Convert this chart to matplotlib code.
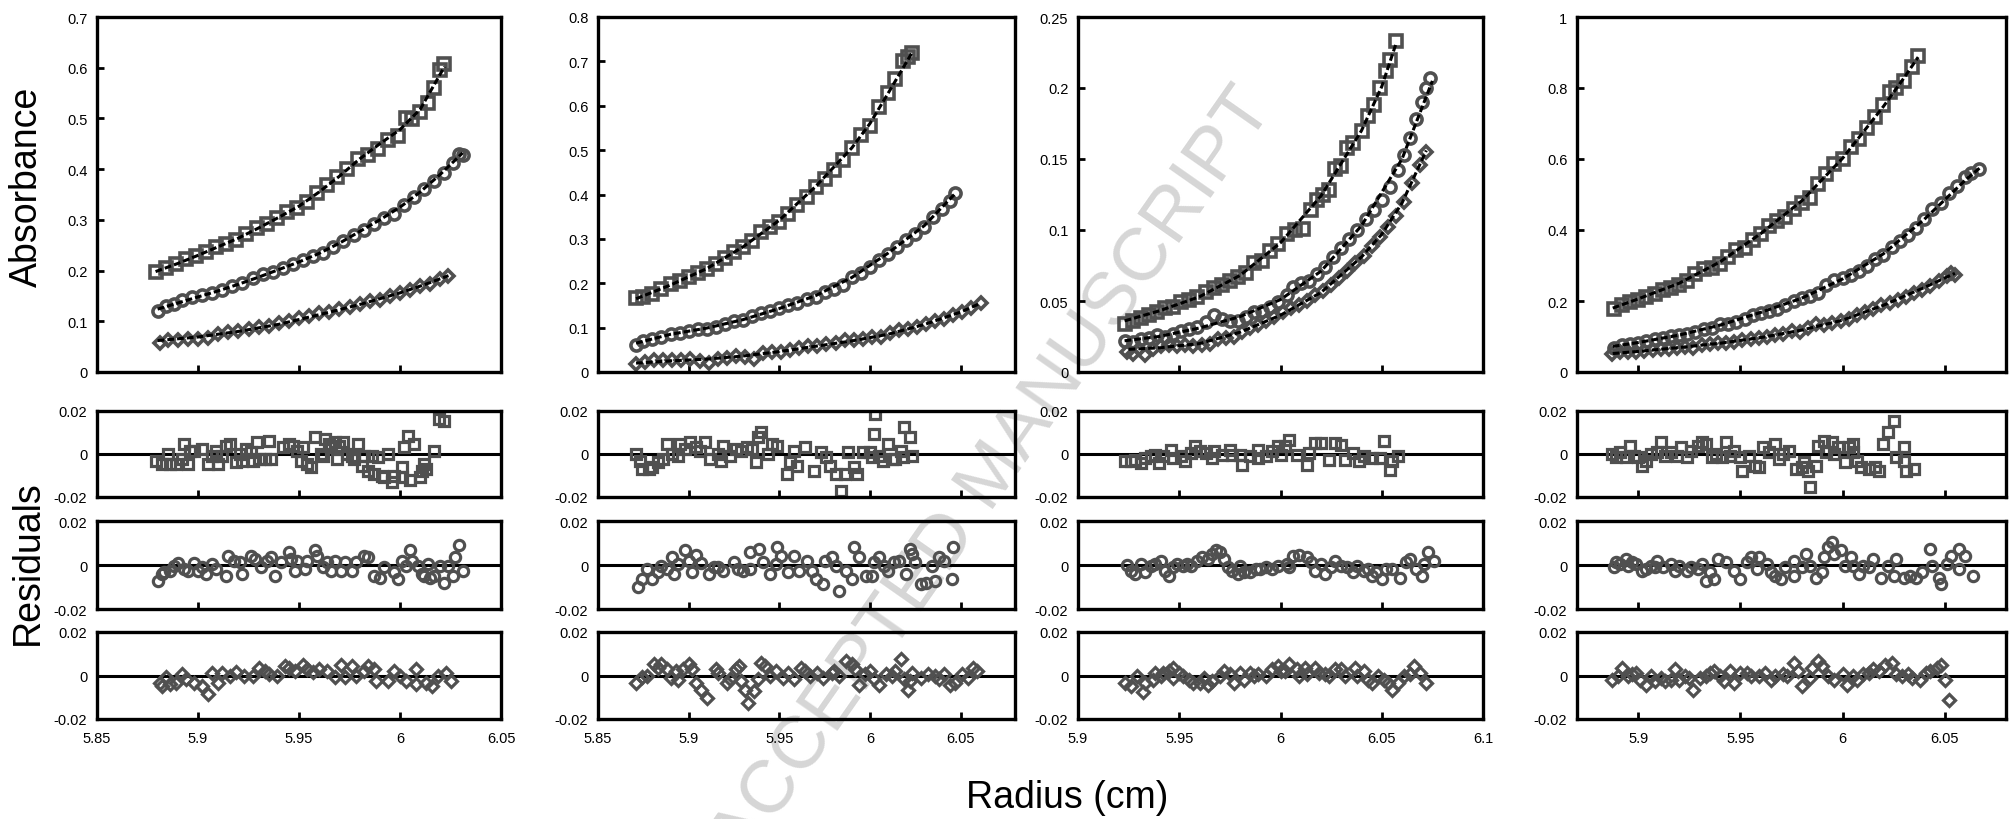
import numpy as np
import matplotlib
matplotlib.use("Agg")
from matplotlib import pyplot as plt
from matplotlib.ticker import FormatStrFormatter

plt.rcParams['font.family'] = ['Liberation Sans', 'DejaVu Sans']
plt.rcParams['axes.unicode_minus'] = False

####################################################

# Panel 1 : absorbance scans (squares / circles / diamonds) + fits

p1_sq_r = [5.879, 5.884, 5.889, 5.894, 5.899, 5.904, 5.909, 5.914, 5.919, 5.924, 5.929, 5.934, 5.939, 5.944, 5.949, 5.954,
           5.959, 5.964, 5.969, 5.974, 5.979, 5.984, 5.989, 5.994, 5.999, 6.003, 6.006, 6.010, 6.014, 6.017, 6.020, 6.022]
p1_sq_a = [.197, .205, .212, .222, .229, .236, .246, .253, .261, .272, .284, .292, .304, .315, .323, .336,
           .353, .368, .384, .400, .420, .428, .440, .458, .466, .500, .498, .512, .530, .560, .595, .607]
p1_ci_r = [5.880, 5.884, 5.888, 5.892, 5.897, 5.902, 5.907, 5.912, 5.917, 5.922, 5.927, 5.932, 5.937, 5.942, 5.947, 5.952,
           5.957, 5.962, 5.967, 5.972, 5.977, 5.982, 5.987, 5.992, 5.997, 6.002, 6.007, 6.012, 6.017, 6.022, 6.026, 6.029, 6.031]
p1_ci_a = [.120, .130, .135, .141, .147, .152, .156, .161, .170, .176, .186, .193, .197, .206, .213, .220,
           .229, .235, .246, .258, .270, .280, .292, .304, .312, .330, .345, .361, .377, .393, .413, .430, .428]
p1_di_r = [5.881, 5.885, 5.890, 5.895, 5.900, 5.905, 5.910, 5.915, 5.920, 5.925, 5.930, 5.935, 5.940, 5.945, 5.950,
           5.955, 5.960, 5.965, 5.970, 5.975, 5.980, 5.985, 5.990, 5.995, 6.000, 6.005, 6.010, 6.015, 6.020, 6.024]
p1_di_a = [.058, .063, .064, .066, .066, .068, .075, .078, .081, .084, .088, .091, .096, .101, .106,
           .110, .116, .119, .124, .129, .134, .140, .141, .150, .155, .161, .170, .173, .184, .190]

p1_sq_fit_r = [5.879, 5.89, 5.90, 5.91, 5.92, 5.93, 5.94, 5.95, 5.96, 5.97, 5.98, 5.99, 6.00, 6.01, 6.022]
p1_sq_fit_a = [.198, .214, .230, .247, .264, .284, .305, .327, .355, .386, .420, .450, .478, .518, .602]
p1_ci_fit_r = [5.88, 5.89, 5.90, 5.91, 5.92, 5.93, 5.94, 5.95, 5.96, 5.97, 5.98, 5.99, 6.00, 6.01, 6.02, 6.031]
p1_ci_fit_a = [.124, .136, .148, .160, .173, .187, .202, .217, .234, .254, .277, .300, .325, .355, .390, .432]
p1_di_fit_r = [5.88, 5.90, 5.92, 5.94, 5.96, 5.98, 6.00, 6.012, 6.024]
p1_di_fit_a = [.062, .069, .080, .094, .113, .133, .156, .172, .190]

p1_sq_res_r = [5.879, 5.882, 5.885, 5.886, 5.889, 5.892, 5.893, 5.895, 5.896, 5.898,
               5.902, 5.905, 5.907, 5.909, 5.910, 5.912, 5.914, 5.916, 5.919, 5.921,
               5.922, 5.924, 5.926, 5.927, 5.929, 5.930, 5.933, 5.935, 5.936, 5.942,
               5.945, 5.947, 5.949, 5.951, 5.952, 5.954, 5.956, 5.958, 5.961, 5.962,
               5.963, 5.965, 5.966, 5.968, 5.969, 5.970, 5.972, 5.974, 5.976, 5.977,
               5.979, 5.981, 5.982, 5.984, 5.986, 5.987, 5.989, 5.991, 5.992, 5.994,
               5.996, 5.997, 6.001, 6.001, 6.002, 6.004, 6.005, 6.007, 6.010, 6.011,
               6.012, 6.013, 6.017, 6.0195, 6.022]
p1_sq_res = [-0.0031, -0.0046, 0.0, -0.0046, -0.0046, -0.0023, 0.0046, -0.0046, 0.0015, 0.0015,
             0.0023, -0.0046, -0.0008, 0.0015, -0.0046, -0.0008, 0.0038, 0.0046, -0.0038, 0.0,
             -0.0031, 0.0023, 0.0008, -0.0031, 0.0054, -0.0023, -0.0023, 0.0062, -0.0023, 0.0031,
             0.0046, 0.0038, 0.0015, -0.0031, 0.0031, -0.0046, -0.0062, 0.0077, 0.0, -0.0008,
             0.0069, 0.0046, 0.0031, 0.0054, -0.0023, 0.0038, 0.0054, 0.0, -0.0008, -0.0023,
             0.0046, -0.0054, -0.0008, -0.0077, -0.0008, -0.0092, -0.0015, -0.0100, -0.0108, 0.0,
             -0.0131, -0.0100, -0.0108, -0.0062, 0.0031, 0.0085, -0.0123, 0.0046, -0.0108, -0.0077,
             -0.0046, -0.0069, 0.0015, 0.0162, 0.0154]
p1_ci_res_r = [5.880, 5.882, 5.883, 5.886, 5.888, 5.890, 5.893, 5.895, 5.898, 5.900,
               5.902, 5.904, 5.907, 5.909, 5.914, 5.915, 5.918, 5.921, 5.922, 5.926,
               5.928, 5.931, 5.934, 5.936, 5.938, 5.941, 5.945, 5.946, 5.948, 5.949,
               5.953, 5.954, 5.958, 5.959, 5.962, 5.964, 5.966, 5.968, 5.971, 5.973,
               5.976, 5.978, 5.982, 5.984, 5.987, 5.990, 5.992, 5.997, 5.999, 6.001,
               6.003, 6.005, 6.006, 6.009, 6.011, 6.012, 6.014, 6.015, 6.017, 6.020,
               6.022, 6.024, 6.026, 6.027, 6.029, 6.031]
p1_ci_res = [-0.0072, -0.0042, -0.0034, -0.0026, -0.0003, 0.0008, -0.0018, -0.0026, 0.0008, -0.0026,
             -0.0011, -0.0042, 0.0005, -0.0018, -0.0049, 0.0043, 0.0020, 0.0012, -0.0042, 0.0043,
             0.0028, -0.0011, 0.0020, 0.0035, -0.0049, 0.0012, 0.0059, 0.0028, -0.0026, 0.0020,
             -0.0018, 0.0020, 0.0066, 0.0043, -0.0011, 0.0012, -0.0026, 0.0020, -0.0026, 0.0012,
             -0.0026, 0.0012, 0.0043, 0.0035, -0.0049, -0.0057, -0.0008, -0.0034, -0.0065, 0.0020,
             -0.0003, 0.0066, 0.0020, -0.0003, -0.0042, -0.0049, 0.0005, -0.0057, -0.0049, -0.0003,
             -0.0080, -0.0003, -0.0049, 0.0035, 0.0089, -0.0026]
p1_di_res_r = [5.881, 5.882, 5.884, 5.886, 5.889, 5.892, 5.894, 5.898, 5.902, 5.905,
               5.907, 5.910, 5.912, 5.916, 5.919, 5.923, 5.927, 5.930, 5.933, 5.935,
               5.939, 5.943, 5.945, 5.948, 5.952, 5.954, 5.957, 5.960, 5.964, 5.968,
               5.971, 5.973, 5.976, 5.978, 5.982, 5.984, 5.987, 5.988, 5.994, 5.997,
               6.000, 6.003, 6.008, 6.008, 6.013, 6.016, 6.019, 6.023, 6.025]
p1_di_res = [-0.0034, -0.0049, -0.0006, -0.0041, -0.0034, 0.0005, -0.0018, -0.0034, -0.0046, -0.0087,
             0.0012, -0.0034, 0.0012, -0.0003, 0.0015, 0.0, -0.0003, 0.0035, 0.0020, 0.0005,
             -0.0003, 0.0043, 0.0035, 0.0020, 0.0050, 0.0031, 0.0015, 0.0028, 0.0020, -0.0006,
             0.0046, -0.0006, 0.0043, -0.0003, 0.0020, 0.0043, 0.0028, -0.0026, -0.0026, 0.0020,
             -0.0003, -0.0026, 0.0028, -0.0041, -0.0034, -0.0049, -0.0003, 0.0012, -0.0026]

####################################################

# Panel 2

p2_sq_r = [5.871, 5.875, 5.880, 5.885, 5.890, 5.895, 5.900, 5.905, 5.910, 5.915, 5.920, 5.925, 5.930, 5.935, 5.940, 5.945,
           5.950, 5.955, 5.960, 5.965, 5.970, 5.975, 5.980, 5.985, 5.990, 5.995, 6.000, 6.005, 6.010, 6.014, 6.018, 6.021, 6.023]
p2_sq_a = [.166, .170, .176, .188, .198, .206, .214, .222, .233, .243, .256, .270, .282, .295, .315, .326,
           .338, .357, .377, .395, .418, .436, .455, .477, .505, .535, .555, .598, .628, .660, .700, .710, .720]
p2_ci_r = [5.871, 5.875, 5.880, 5.885, 5.890, 5.895, 5.900, 5.905, 5.910, 5.915, 5.920, 5.925, 5.930, 5.935, 5.940, 5.945,
           5.950, 5.955, 5.960, 5.965, 5.970, 5.975, 5.980, 5.985, 5.990, 5.995, 6.000, 6.005, 6.010, 6.015, 6.020, 6.025,
           6.030, 6.035, 6.040, 6.044, 6.047]
p2_ci_a = [.060, .070, .075, .080, .086, .089, .093, .096, .098, .102, .108, .114, .118, .126, .132, .137,
           .145, .150, .156, .165, .170, .180, .188, .196, .215, .222, .236, .252, .267, .282, .298, .312,
           .326, .350, .368, .385, .404]
p2_di_r = [5.871, 5.876, 5.881, 5.886, 5.891, 5.896, 5.901, 5.906, 5.911, 5.916, 5.921, 5.926, 5.931, 5.936, 5.941, 5.946,
           5.951, 5.956, 5.961, 5.966, 5.971, 5.976, 5.981, 5.986, 5.991, 5.996, 6.001, 6.006, 6.011, 6.016, 6.021, 6.026,
           6.031, 6.036, 6.041, 6.046, 6.051, 6.056, 6.061]
p2_di_a = [.018, .022, .027, .028, .027, .026, .030, .025, .021, .030, .031, .035, .033, .030, .043, .045,
           .046, .050, .054, .058, .058, .062, .066, .072, .072, .075, .078, .079, .088, .094, .096, .102,
           .108, .115, .120, .128, .136, .144, .156]

p2_sq_fit_r = [5.871, 5.89, 5.91, 5.93, 5.95, 5.97, 5.99, 6.00, 6.01, 6.023]
p2_sq_fit_a = [.165, .196, .233, .282, .342, .418, .505, .560, .628, .718]
p2_ci_fit_r = [5.871, 5.89, 5.91, 5.93, 5.95, 5.97, 5.99, 6.01, 6.03, 6.047]
p2_ci_fit_a = [.065, .085, .099, .118, .143, .172, .213, .268, .330, .402]
p2_di_fit_r = [5.871, 5.89, 5.91, 5.93, 5.95, 5.97, 5.99, 6.01, 6.03, 6.05, 6.061]
p2_di_fit_a = [.020, .025, .029, .036, .046, .058, .070, .085, .107, .135, .155]

p2_sq_res_r = [5.871, 5.873, 5.874, 5.878, 5.880, 5.883, 5.886, 5.888, 5.891, 5.894,
               5.895, 5.898, 5.901, 5.904, 5.906, 5.909, 5.912, 5.916, 5.918, 5.919,
               5.923, 5.926, 5.929, 5.932, 5.935, 5.937, 5.938, 5.940, 5.944, 5.946,
               5.949, 5.954, 5.956, 5.958, 5.960, 5.964, 5.969, 5.973, 5.976, 5.978,
               5.981, 5.984, 5.986, 5.988, 5.991, 5.993, 5.996, 6.000, 6.001, 6.002,
               6.003, 6.005, 6.007, 6.010, 6.012, 6.014, 6.017, 6.018, 6.019, 6.022,
               6.023]
p2_sq_res = [0.0, -0.0031, -0.0070, -0.0070, -0.0062, -0.0039, -0.0023, 0.0047, 0.0, -0.0008,
             0.0047, 0.0023, 0.0055, 0.0031, 0.0016, 0.0055, -0.0023, 0.0, -0.0031, 0.0039,
             -0.0008, 0.0023, 0.0016, 0.0031, 0.0023, -0.0039, 0.0078, 0.0101, 0.0, 0.0047,
             0.0039, -0.0094, -0.0039, 0.0016, -0.0055, 0.0031, -0.0078, 0.0008, -0.0016, -0.0055,
             -0.0094, -0.0172, -0.0094, 0.0008, -0.0062, -0.0094, 0.0008, 0.0008, -0.0016, 0.0094,
             0.0187, -0.0008, -0.0031, 0.0047, -0.0023, -0.0023, 0.0016, -0.0016, 0.0125, 0.0078,
             -0.0008]
p2_ci_res_r = [5.872, 5.874, 5.877, 5.880, 5.883, 5.885, 5.888, 5.891, 5.892, 5.894,
               5.898, 5.900, 5.902, 5.904, 5.907, 5.911, 5.914, 5.916, 5.919, 5.925,
               5.927, 5.930, 5.934, 5.934, 5.939, 5.941, 5.945, 5.948, 5.949, 5.951,
               5.955, 5.958, 5.961, 5.965, 5.968, 5.970, 5.974, 5.975, 5.979, 5.981,
               5.983, 5.987, 5.990, 5.991, 5.994, 5.998, 6.001, 6.002, 6.005, 6.008,
               6.010, 6.013, 6.016, 6.020, 6.022, 6.023, 6.025, 6.028, 6.031, 6.034,
               6.036, 6.038, 6.041, 6.045, 6.046]
p2_ci_res = [-0.0100, -0.0065, -0.0018, -0.0065, -0.0034, -0.0003, -0.0018, 0.0035, -0.0042, 0.0005,
             0.0069, 0.0020, -0.0034, 0.0046, 0.0008, -0.0042, -0.0008, -0.0011, -0.0026, 0.0012,
             -0.0018, -0.0026, -0.0018, 0.0059, 0.0074, 0.0012, -0.0042, 0.0005, 0.0082, 0.0043,
             -0.0034, 0.0043, -0.0026, 0.0020, -0.0026, -0.0065, -0.0088, 0.0020, 0.0035, -0.0003,
             -0.0119, -0.0026, -0.0065, 0.0082, 0.0035, -0.0049, -0.0049, 0.0012, 0.0035, -0.0003,
             -0.0026, 0.0012, 0.0020, -0.0042, 0.0074, 0.0051, 0.0012, -0.0088, -0.0080, -0.0003,
             -0.0072, 0.0035, 0.0020, -0.0065, 0.0082]
p2_di_res_r = [5.871, 5.874, 5.877, 5.881, 5.883, 5.885, 5.888, 5.890, 5.893, 5.894,
               5.897, 5.900, 5.902, 5.904, 5.907, 5.910, 5.915, 5.916, 5.921, 5.923,
               5.926, 5.928, 5.929, 5.931, 5.933, 5.936, 5.938, 5.940, 5.942, 5.945,
               5.948, 5.952, 5.955, 5.958, 5.962, 5.964, 5.967, 5.971, 5.974, 5.979,
               5.980, 5.983, 5.987, 5.990, 5.992, 5.994, 5.997, 6.000, 6.002, 6.005,
               6.009, 6.012, 6.014, 6.017, 6.019, 6.021, 6.022, 6.023, 6.028, 6.032,
               6.036, 6.038, 6.041, 6.044, 6.047, 6.051, 6.054, 6.057, 6.059]
p2_di_res = [-0.0034, -0.0006, -0.0003, 0.0051, 0.0035, 0.0051, 0.0028, -0.0011, 0.0020, -0.0022,
             0.0028, 0.0051, 0.0028, -0.0034, -0.0065, -0.0104, 0.0028, 0.0012, -0.0034, -0.0018,
             0.0028, 0.0043, -0.0026, -0.0065, -0.0127, -0.0073, -0.0018, 0.0056, 0.0043, 0.0,
             0.0020, -0.0011, 0.0012, -0.0018, 0.0035, 0.0020, -0.0003, 0.0012, -0.0011, 0.0012,
             0.0020, -0.0003, 0.0067, 0.0051, 0.0028, -0.0042, 0.0005, 0.0020, -0.0018, -0.0042,
             0.0005, -0.0003, 0.0020, 0.0074, -0.0018, -0.0065, -0.0026, 0.0012, -0.0011, 0.0005,
             -0.0003, -0.0018, 0.0005, -0.0042, -0.0034, 0.0005, -0.0011, 0.0035, 0.0020]

####################################################

# Panel 3

p3_sq_r = [5.923, 5.927, 5.931, 5.935, 5.939, 5.943, 5.947, 5.951, 5.955, 5.959, 5.963, 5.967, 5.971, 5.975, 5.979,
           5.983, 5.987, 5.991, 5.995, 5.999, 6.003, 6.007, 6.011, 6.015, 6.018, 6.021, 6.024, 6.027, 6.030, 6.033,
           6.036, 6.040, 6.043, 6.046, 6.049, 6.052, 6.054, 6.057]
p3_sq_a = [.034, .036, .038, .040, .042, .045, .046, .049, .051, .053, .056, .059, .061, .064, .067,
           .070, .077, .078, .085, .090, .097, .100, .101, .114, .121, .125, .128, .143, .145, .158,
           .161, .170, .180, .188, .200, .212, .220, .233]
p3_ci_r = [5.923, 5.927, 5.931, 5.935, 5.939, 5.943, 5.947, 5.951, 5.955, 5.959, 5.963, 5.967, 5.971, 5.975, 5.979,
           5.983, 5.987, 5.991, 5.995, 5.999, 6.003, 6.006, 6.010, 6.014, 6.018, 6.022, 6.026, 6.030, 6.034, 6.038,
           6.042, 6.046, 6.050, 6.054, 6.058, 6.061, 6.064, 6.067, 6.070, 6.072, 6.074]
p3_ci_a = [.022, .021, .023, .024, .026, .025, .027, .029, .030, .032, .035, .040, .037, .036, .036,
           .039, .042, .043, .046, .049, .054, .060, .063, .064, .069, .074, .081, .087, .094, .100,
           .108, .114, .121, .130, .142, .153, .165, .178, .190, .200, .207]
p3_di_r = [5.924, 5.927, 5.930, 5.933, 5.937, 5.941, 5.945, 5.949, 5.953, 5.957, 5.961, 5.965, 5.969, 5.973, 5.977,
           5.981, 5.985, 5.989, 5.993, 5.997, 6.001, 6.005, 6.009, 6.013, 6.017, 6.021, 6.025, 6.029, 6.033, 6.037,
           6.041, 6.045, 6.049, 6.053, 6.057, 6.061, 6.065, 6.069, 6.072]
p3_di_a = [.014, .013, .016, .012, .016, .018, .019, .018, .019, .018, .019, .020, .023, .024, .025,
           .028, .031, .033, .036, .039, .042, .045, .047, .050, .054, .057, .061, .066, .071, .077,
           .082, .089, .095, .102, .110, .120, .133, .146, .155]

p3_sq_fit_r = [5.923, 5.94, 5.96, 5.98, 6.00, 6.02, 6.04, 6.05, 6.057]
p3_sq_fit_a = [.036, .043, .053, .068, .091, .124, .170, .201, .231]
p3_ci_fit_r = [5.923, 5.94, 5.96, 5.98, 6.00, 6.02, 6.04, 6.06, 6.075]
p3_ci_fit_a = [.022, .025, .031, .039, .051, .071, .103, .150, .205]
p3_di_fit_r = [5.925, 5.94, 5.96, 5.98, 6.00, 6.02, 6.04, 6.05, 6.06, 6.072]
p3_di_fit_a = [.016, .017, .020, .028, .040, .056, .081, .097, .119, .156]

p3_sq_res_r = [5.923, 5.926, 5.928, 5.931, 5.933, 5.936, 5.938, 5.940, 5.942, 5.946,
               5.947, 5.951, 5.953, 5.956, 5.958, 5.960, 5.963, 5.966, 5.967, 5.971,
               5.975, 5.976, 5.980, 5.981, 5.985, 5.989, 5.989, 5.993, 5.996, 5.999,
               6.000, 6.002, 6.004, 6.008, 6.013, 6.014, 6.017, 6.020, 6.024, 6.027,
               6.030, 6.032, 6.036, 6.039, 6.041, 6.045, 6.049, 6.051, 6.054, 6.055,
               6.058]
p3_sq_res = [-0.0034, -0.0034, -0.0027, -0.0042, -0.0019, -0.0011, -0.0003, -0.0042, -0.0011, 0.0020,
             -0.0019, -0.0011, -0.0034, 0.0005, 0.0036, 0.0012, 0.0005, -0.0019, 0.0012, -0.0003,
             0.0020, -0.0003, -0.0003, -0.0050, -0.0011, 0.0020, -0.0019, -0.0011, 0.0012, 0.0036,
             -0.0003, 0.0036, 0.0067, -0.0003, -0.0050, 0.0005, 0.0052, 0.0052, -0.0027, 0.0052,
             0.0044, -0.0027, 0.0005, -0.0034, -0.0011, -0.0019, -0.0019, 0.0060, -0.0073, -0.0034,
             -0.0011]
p3_ci_res_r = [5.924, 5.926, 5.928, 5.931, 5.933, 5.936, 5.938, 5.941, 5.943, 5.945,
               5.947, 5.949, 5.952, 5.954, 5.956, 5.959, 5.961, 5.964, 5.966, 5.968,
               5.970, 5.972, 5.974, 5.976, 5.979, 5.980, 5.982, 5.985, 5.988, 5.990,
               5.993, 5.996, 5.999, 6.003, 6.004, 6.006, 6.009, 6.013, 6.015, 6.017,
               6.020, 6.022, 6.025, 6.027, 6.030, 6.033, 6.036, 6.038, 6.041, 6.043,
               6.045, 6.047, 6.050, 6.052, 6.055, 6.059, 6.062, 6.064, 6.067, 6.070,
               6.071, 6.073, 6.076]
p3_ci_res = [0.0, -0.0026, -0.0042, 0.0005, -0.0034, -0.0003, 0.0005, 0.0020, -0.0026, -0.0049,
             -0.0011, 0.0005, -0.0003, 0.0005, -0.0003, 0.0020, 0.0035, 0.0028, 0.0051, 0.0066,
             0.0058, 0.0028, -0.0011, -0.0026, -0.0042, -0.0003, -0.0034, -0.0034, -0.0018, -0.0018,
             -0.0011, -0.0018, -0.0003, 0.0005, -0.0011, 0.0043, 0.0046, 0.0035, 0.0012, -0.0026,
             0.0005, -0.0042, -0.0011, 0.0020, -0.0003, -0.0011, -0.0034, -0.0003, -0.0026, -0.0018,
             -0.0049, -0.0034, -0.0065, -0.0018, -0.0018, -0.0057, 0.0012, 0.0028, -0.0018, -0.0049,
             0.0005, 0.0058, 0.0020]
p3_di_res_r = [5.923, 5.926, 5.929, 5.932, 5.933, 5.937, 5.938, 5.941, 5.942, 5.945,
               5.947, 5.947, 5.950, 5.952, 5.955, 5.957, 5.960, 5.962, 5.964, 5.966,
               5.970, 5.972, 5.975, 5.977, 5.980, 5.982, 5.985, 5.987, 5.989, 5.993,
               5.996, 5.999, 6.000, 6.002, 6.004, 6.008, 6.009, 6.012, 6.013, 6.017,
               6.019, 6.022, 6.024, 6.027, 6.030, 6.032, 6.037, 6.038, 6.041, 6.043,
               6.045, 6.048, 6.051, 6.053, 6.055, 6.058, 6.061, 6.064, 6.066, 6.069,
               6.072]
p3_di_res = [-0.0035, -0.0050, -0.0003, -0.0074, -0.0035, -0.0019, 0.0013, -0.0003, 0.0013, 0.0020,
             -0.0011, 0.0036, 0.0013, -0.0003, -0.0019, -0.0035, -0.0035, -0.0011, -0.0043, -0.0027,
             -0.0003, 0.0020, 0.0005, -0.0035, 0.0013, -0.0019, 0.0013, -0.0003, 0.0005, -0.0003,
             0.0028, 0.0044, 0.0020, 0.0020, 0.0052, 0.0028, -0.0003, 0.0036, 0.0005, 0.0036,
             0.0013, 0.0005, -0.0003, 0.0028, 0.0028, -0.0003, 0.0036, -0.0003, 0.0020, -0.0019,
             -0.0035, -0.0003, -0.0019, -0.0035, -0.0066, -0.0035, -0.0003, 0.0005, 0.0044, 0.0013,
             -0.0035]

####################################################

# Panel 4

p4_sq_r = [5.888, 5.892, 5.896, 5.900, 5.904, 5.908, 5.912, 5.916, 5.920, 5.924, 5.928, 5.932, 5.936, 5.940, 5.944,
           5.948, 5.952, 5.956, 5.960, 5.964, 5.968, 5.972, 5.976, 5.980, 5.984, 5.988, 5.992, 5.996, 6.000, 6.004,
           6.008, 6.012, 6.016, 6.020, 6.023, 6.026, 6.030, 6.034, 6.037]
p4_sq_a = [.178, .188, .196, .203, .212, .219, .230, .238, .246, .257, .275, .290, .293, .305, .325,
           .344, .348, .373, .388, .410, .425, .438, .458, .476, .490, .530, .557, .585, .600, .633,
           .655, .686, .718, .752, .790, .800, .820, .858, .889]
p4_ci_r = [5.888, 5.892, 5.896, 5.900, 5.904, 5.908, 5.912, 5.916, 5.920, 5.924, 5.928, 5.932, 5.936, 5.940, 5.944,
           5.948, 5.952, 5.956, 5.960, 5.964, 5.968, 5.972, 5.976, 5.980, 5.984, 5.988, 5.992, 5.996, 6.000, 6.004,
           6.008, 6.012, 6.016, 6.020, 6.024, 6.028, 6.032, 6.036, 6.040, 6.044, 6.048, 6.052, 6.056, 6.060,
           6.063, 6.067]
p4_ci_a = [.068, .075, .079, .082, .086, .092, .096, .101, .104, .108, .114, .120, .124, .134, .136,
           .141, .150, .160, .165, .172, .178, .188, .200, .208, .214, .223, .245, .258, .265, .274,
           .284, .300, .318, .330, .352, .370, .385, .405, .430, .458, .475, .505, .525, .548,
           .560, .572]
p4_di_r = [5.887, 5.891, 5.895, 5.899, 5.903, 5.907, 5.911, 5.915, 5.919, 5.923, 5.927, 5.931, 5.935, 5.939, 5.943,
           5.947, 5.951, 5.955, 5.959, 5.963, 5.967, 5.971, 5.975, 5.979, 5.983, 5.987, 5.991, 5.995, 5.999, 6.003,
           6.007, 6.011, 6.015, 6.019, 6.023, 6.027, 6.031, 6.035, 6.039, 6.043, 6.047, 6.051, 6.053, 6.055]
p4_di_a = [.050, .055, .056, .057, .058, .062, .064, .066, .069, .070, .068, .075, .078, .081, .082,
           .085, .090, .093, .096, .100, .103, .108, .115, .114, .124, .135, .132, .139, .143, .150,
           .160, .170, .178, .188, .195, .203, .210, .222, .232, .243, .255, .270, .278, .272]

p4_sq_fit_r = [5.8875, 5.90, 5.92, 5.94, 5.96, 5.98, 6.00, 6.02, 6.03, 6.037]
p4_sq_fit_a = [.180, .206, .250, .310, .390, .482, .602, .748, .828, .887]
p4_ci_fit_r = [5.8875, 5.90, 5.92, 5.94, 5.96, 5.98, 6.00, 6.02, 6.04, 6.06, 6.067]
p4_ci_fit_a = [.072, .083, .104, .132, .168, .208, .262, .333, .430, .540, .574]
p4_di_fit_r = [5.8875, 5.90, 5.92, 5.94, 5.96, 5.98, 6.00, 6.02, 6.04, 6.055]
p4_di_fit_a = [.052, .058, .069, .081, .097, .118, .146, .188, .238, .278]

p4_sq_res_r = [5.887, 5.889, 5.891, 5.894, 5.896, 5.898, 5.900, 5.902, 5.904, 5.906,
               5.909, 5.911, 5.913, 5.916, 5.919, 5.921, 5.924, 5.926, 5.929, 5.931,
               5.933, 5.936, 5.938, 5.941, 5.943, 5.945, 5.947, 5.950, 5.951, 5.954,
               5.957, 5.959, 5.961, 5.964, 5.967, 5.969, 5.971, 5.974, 5.977, 5.980,
               5.981, 5.983, 5.984, 5.987, 5.988, 5.991, 5.992, 5.995, 5.996, 5.998,
               6.001, 6.003, 6.005, 6.005, 6.007, 6.009, 6.013, 6.016, 6.018, 6.020,
               6.022, 6.025, 6.026, 6.030, 6.030, 6.031, 6.035]
p4_sq_res = [0.0, -0.0015, 0.0008, -0.0015, 0.0039, -0.0008, -0.0015, -0.0054, -0.0031, 0.0,
             0.0008, 0.0054, -0.0008, 0.0008, -0.0008, 0.0031, -0.0015, 0.0016, 0.0039, 0.0054,
             0.0047, -0.0015, 0.0, -0.0015, 0.0054, -0.0008, 0.0016, -0.0015, -0.0078, -0.0008,
             -0.0054, -0.0062, 0.0031, 0.0008, 0.0047, -0.0023, 0.0, 0.0016, -0.0070, -0.0062,
             -0.0039, -0.0078, -0.0155, -0.0054, 0.0039, 0.0062, 0.0008, 0.0054, 0.0, 0.0031,
             -0.0039, 0.0031, 0.0008, 0.0047, -0.0031, -0.0062, -0.0070, -0.0062, -0.0078, 0.0047,
             0.0101, 0.0155, -0.0015, -0.0031, 0.0031, -0.0078, -0.0070]
p4_ci_res_r = [5.888, 5.889, 5.891, 5.894, 5.895, 5.897, 5.899, 5.902, 5.904, 5.906,
               5.908, 5.909, 5.912, 5.916, 5.918, 5.920, 5.924, 5.926, 5.929, 5.931,
               5.933, 5.935, 5.937, 5.939, 5.943, 5.947, 5.950, 5.953, 5.955, 5.958,
               5.959, 5.963, 5.965, 5.967, 5.970, 5.972, 5.976, 5.976, 5.980, 5.982,
               5.984, 5.987, 5.990, 5.991, 5.993, 5.995, 5.996, 5.999, 6.001, 6.004,
               6.005, 6.008, 6.010, 6.013, 6.015, 6.019, 6.022, 6.025, 6.026, 6.030,
               6.033, 6.036, 6.039, 6.043, 6.044, 6.047, 6.048, 6.051, 6.053, 6.057,
               6.057, 6.060, 6.064]
p4_ci_res = [-0.0011, 0.0012, 0.0005, 0.0028, -0.0003, 0.0012, 0.0005, -0.0026, -0.0018, -0.0003,
             -0.0011, 0.0020, -0.0011, 0.0005, -0.0026, -0.0003, -0.0026, -0.0011, -0.0018, 0.0005,
             -0.0072, -0.0034, -0.0065, 0.0028, 0.0012, -0.0026, -0.0065, 0.0012, 0.0035, -0.0018,
             0.0035, 0.0005, -0.0034, -0.0049, -0.0065, -0.0011, -0.0049, 0.0020, -0.0011, 0.0051,
             -0.0003, -0.0057, -0.0034, 0.0035, 0.0082, 0.0105, 0.0051, 0.0066, -0.0003, 0.0035,
             -0.0003, -0.0042, -0.0003, -0.0011, 0.0028, -0.0057, -0.0003, -0.0049, 0.0028, -0.0057,
             -0.0049, -0.0057, -0.0034, 0.0074, -0.0003, -0.0057, -0.0088, 0.0005, 0.0043, -0.0018,
             0.0074, 0.0043, -0.0049]
p4_di_res_r = [5.887, 5.890, 5.892, 5.895, 5.897, 5.899, 5.901, 5.904, 5.906, 5.908,
               5.911, 5.913, 5.916, 5.918, 5.920, 5.923, 5.925, 5.927, 5.930, 5.933,
               5.935, 5.937, 5.940, 5.942, 5.945, 5.947, 5.950, 5.953, 5.955, 5.959,
               5.962, 5.965, 5.967, 5.971, 5.973, 5.976, 5.978, 5.980, 5.984, 5.985,
               5.988, 5.990, 5.993, 5.996, 6.000, 6.002, 6.005, 6.007, 6.010, 6.013,
               6.015, 6.018, 6.021, 6.024, 6.026, 6.029, 6.032, 6.034, 6.038, 6.041,
               6.043, 6.046, 6.048, 6.050, 6.052]
p4_di_res = [-0.0019, -0.0003, 0.0036, -0.0003, 0.0005, 0.0012, -0.0019, -0.0042, -0.0003, -0.0026,
             -0.0011, -0.0026, -0.0019, 0.0028, -0.0019, -0.0003, -0.0011, -0.0065, -0.0011, -0.0003,
             0.0012, 0.0020, -0.0003, -0.0026, 0.0020, -0.0034, 0.0012, 0.0012, -0.0003, -0.0003,
             0.0012, -0.0019, -0.0003, 0.0005, -0.0003, 0.0059, 0.0020, -0.0050, -0.0011, 0.0036,
             0.0066, 0.0043, -0.0003, -0.0019, 0.0005, -0.0042, -0.0003, -0.0019, 0.0005, 0.0012,
             0.0028, 0.0020, 0.0050, 0.0059, 0.0005, -0.0003, 0.0005, -0.0011, -0.0019, 0.0012,
             0.0020, 0.0036, 0.0050, -0.0019, -0.0112]

####################################################

# Axis ranges and ticks

xlims = [(5.85, 6.05), (5.85, 6.08), (5.9, 6.1), (5.87, 6.08)]
xticks = [[5.85, 5.9, 5.95, 6.0, 6.05],
          [5.85, 5.9, 5.95, 6.0, 6.05],
          [5.9, 5.95, 6.0, 6.05, 6.1],
          [5.9, 5.95, 6.0, 6.05]]
ylims = [0.7, 0.8, 0.25, 1.0]
ysteps = [0.1, 0.1, 0.05, 0.2]
res_ticks = [-0.02, 0, 0.02]

panels = [
    [(p1_sq_r, p1_sq_a, p1_sq_fit_r, p1_sq_fit_a, p1_sq_res_r, p1_sq_res),
     (p1_ci_r, p1_ci_a, p1_ci_fit_r, p1_ci_fit_a, p1_ci_res_r, p1_ci_res),
     (p1_di_r, p1_di_a, p1_di_fit_r, p1_di_fit_a, p1_di_res_r, p1_di_res)],
    [(p2_sq_r, p2_sq_a, p2_sq_fit_r, p2_sq_fit_a, p2_sq_res_r, p2_sq_res),
     (p2_ci_r, p2_ci_a, p2_ci_fit_r, p2_ci_fit_a, p2_ci_res_r, p2_ci_res),
     (p2_di_r, p2_di_a, p2_di_fit_r, p2_di_fit_a, p2_di_res_r, p2_di_res)],
    [(p3_sq_r, p3_sq_a, p3_sq_fit_r, p3_sq_fit_a, p3_sq_res_r, p3_sq_res),
     (p3_ci_r, p3_ci_a, p3_ci_fit_r, p3_ci_fit_a, p3_ci_res_r, p3_ci_res),
     (p3_di_r, p3_di_a, p3_di_fit_r, p3_di_fit_a, p3_di_res_r, p3_di_res)],
    [(p4_sq_r, p4_sq_a, p4_sq_fit_r, p4_sq_fit_a, p4_sq_res_r, p4_sq_res),
     (p4_ci_r, p4_ci_a, p4_ci_fit_r, p4_ci_fit_a, p4_ci_res_r, p4_ci_res),
     (p4_di_r, p4_di_a, p4_di_fit_r, p4_di_fit_a, p4_di_res_r, p4_di_res)],
]

markers = [('s', 7.4), ('o', 7.4), ('D', 6.0)]
grey = '#505050'

####################################################

# Layout (pixel boxes of the original figure)

W, H = 2010, 820
fig = plt.figure(figsize=(W / 100, H / 100), dpi=100)

cols = [(97, 501), (598, 1015), (1078, 1483), (1577, 2006)]
rows = [(18, 373), (412, 498), (522, 610), (633, 720)]


def px_axes(x0, x1, y0, y1):
    ax = fig.add_axes([x0 / W, 1 - y1 / H, (x1 - x0) / W, (y1 - y0) / H])
    ax.patch.set_visible(False)
    for s in ax.spines.values():
        s.set_linewidth(2.4)
    ax.tick_params(direction='in', length=5, width=2, labelsize=10.5, pad=7)
    return ax


for c in range(4):
    x0, x1 = cols[c]

    # main absorbance panel
    ax = px_axes(x0, x1, rows[0][0], rows[0][1])
    for (m, ms), (r, a, fr, fa, rr, res) in zip(markers, panels[c]):
        ax.plot(r, a, ls='none', marker=m, ms=ms + 0.6, mfc='none', mec=grey, mew=2.6, zorder=2)
        ax.plot(fr, fa, color='black', lw=2.2, ls=(0, (2.2, 1.0)), zorder=3)
    ax.set_xlim(*xlims[c])
    ax.set_ylim(0, ylims[c])
    ax.set_xticks(xticks[c])
    ax.set_xticklabels([])
    ax.set_yticks(np.arange(0, ylims[c] + 1e-9, ysteps[c]))
    ax.yaxis.set_major_formatter(FormatStrFormatter('%g'))

    # residual panels
    for k in range(3):
        m, ms = markers[k]
        r, a, fr, fa, rr, res = panels[c][k]
        ax = px_axes(x0, x1, rows[k + 1][0], rows[k + 1][1])
        ax.axhline(0, color='black', lw=2.2, zorder=1)
        ax.plot(rr, res, ls='none', marker=m, ms=ms, mfc='none', mec=grey, mew=2.3, zorder=2)
        ax.set_xlim(*xlims[c])
        ax.set_ylim(-0.02, 0.02)
        ax.set_yticks(res_ticks)
        ax.yaxis.set_major_formatter(FormatStrFormatter('%g'))
        ax.set_xticks(xticks[c])
        if k < 2:
            ax.set_xticklabels([])
        else:
            ax.xaxis.set_major_formatter(FormatStrFormatter('%g'))
            ax.tick_params(axis='x', pad=9)

# axis titles
fig.text(27 / W, 1 - 187 / H, 'Absorbance', rotation=90, fontsize=27, ha='center', va='center')
fig.text(28 / W, 1 - 563 / H, 'Residuals', rotation=90, fontsize=27, ha='center', va='center')
fig.text(1067 / W, 1 - 798 / H, 'Radius (cm)', fontsize=27, ha='center', va='center')

# watermark of the journal proof
fig.text(993 / W, 1 - 475 / H, 'ACCEPTED MANUSCRIPT', rotation=55, fontsize=54,
         color='#d6d6d6', ha='center', va='center', zorder=-5)

fig.savefig('out.png', dpi=100)
